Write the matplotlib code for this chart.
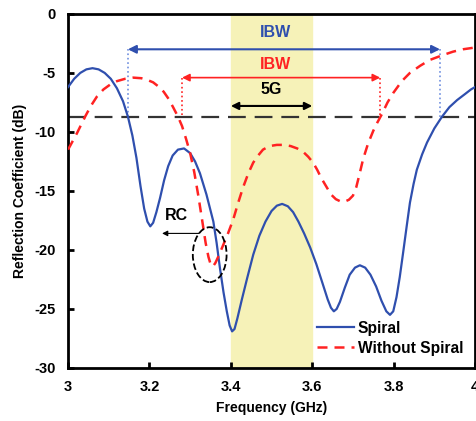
import matplotlib
matplotlib.use('Agg')
import matplotlib.pyplot as plt
from matplotlib.patches import Ellipse

plt.rcParams['font.family'] = ['Liberation Sans', 'DejaVu Sans']
plt.rcParams['font.weight'] = 'bold'
plt.rcParams['axes.unicode_minus'] = False

# Spiral (solid blue)
spiral_f = [3.00, 3.015, 3.03, 3.045, 3.06, 3.075, 3.09, 3.105, 3.12, 3.135,
            3.147, 3.158, 3.168, 3.178, 3.187, 3.195, 3.202, 3.209, 3.217, 3.226,
            3.236, 3.246, 3.257, 3.27, 3.285, 3.30, 3.312, 3.324, 3.34, 3.357,
            3.365, 3.373, 3.382, 3.39, 3.397, 3.403, 3.409, 3.416, 3.427, 3.44,
            3.455, 3.47, 3.485, 3.50, 3.513, 3.526, 3.54, 3.553, 3.566, 3.58,
            3.595, 3.61, 3.625, 3.638, 3.646, 3.653, 3.66, 3.668, 3.68, 3.692,
            3.705, 3.717, 3.73, 3.743, 3.757, 3.77, 3.782, 3.791, 3.799, 3.807,
            3.815, 3.823, 3.832, 3.84, 3.849, 3.857, 3.87, 3.882, 3.90, 3.919,
            3.937, 3.956, 3.975, 3.99, 4.00]
spiral_db = [-6.2, -5.5, -5.0, -4.7, -4.6, -4.7, -5.0, -5.5, -6.3, -7.4,
             -8.7, -10.3, -12.2, -14.6, -16.5, -17.6, -18.0, -17.7, -16.8, -15.6,
             -14.1, -12.9, -12.0, -11.5, -11.4, -11.8, -12.5, -13.5, -15.3, -17.6,
             -19.4, -21.5, -23.6, -25.2, -26.4, -26.9, -26.7, -25.8, -24.2, -22.4,
             -20.4, -18.8, -17.6, -16.7, -16.25, -16.1, -16.3, -16.8, -17.6, -18.6,
             -19.8, -21.2, -22.8, -24.2, -24.9, -25.2, -25.0, -24.4, -23.2, -22.1,
             -21.5, -21.3, -21.5, -22.1, -23.1, -24.3, -25.2, -25.5, -25.2, -24.0,
             -22.3, -20.3, -18.0, -16.0, -14.4, -13.2, -11.9, -10.9, -9.7, -8.7,
             -7.9, -7.3, -6.8, -6.4, -6.2]

# Without spiral (dashed red)
nospiral_f = [3.00, 3.011, 3.022, 3.032, 3.042, 3.056, 3.071, 3.087, 3.103, 3.12,
              3.14, 3.16, 3.18, 3.195, 3.209, 3.222, 3.235, 3.247, 3.258, 3.27,
              3.28, 3.29, 3.30, 3.31, 3.32, 3.33, 3.338, 3.345, 3.351, 3.356,
              3.362, 3.37, 3.381, 3.393, 3.406, 3.418, 3.43, 3.443, 3.455, 3.467,
              3.479, 3.495, 3.513, 3.53, 3.547, 3.563, 3.578, 3.59, 3.602, 3.612,
              3.622, 3.634, 3.646, 3.658, 3.67, 3.68, 3.69, 3.70, 3.708, 3.716,
              3.725, 3.737, 3.75, 3.76, 3.771, 3.785, 3.799, 3.82, 3.84, 3.865,
              3.889, 3.92, 3.946, 3.97, 4.00]
nospiral_db = [-11.5, -10.8, -10.1, -9.4, -8.7, -7.8, -7.0, -6.4, -6.0, -5.7,
               -5.5, -5.4, -5.45, -5.6, -5.8, -6.15, -6.6, -7.2, -7.9, -8.7,
               -9.5, -10.6, -11.8, -13.4, -15.4, -17.6, -19.4, -20.6, -21.3, -21.4,
               -21.1, -20.5, -19.6, -18.6, -17.4, -16.0, -14.7, -13.5, -12.6, -12.0,
               -11.5, -11.2, -11.1, -11.1, -11.2, -11.4, -11.7, -12.1, -12.6, -13.2,
               -13.9, -14.6, -15.3, -15.7, -15.9, -15.9, -15.75, -15.4, -14.7, -13.6,
               -12.3, -11.0, -9.9, -9.2, -8.5, -7.5, -6.7, -5.7, -5.0, -4.4,
               -3.9, -3.5, -3.2, -3.0, -2.85]

threshold_db = -8.7
band_5g = (3.4, 3.6)
ibw_spiral = (3.147, 3.914)
ibw_nospiral = (3.28, 3.767)
xticks = [3, 3.2, 3.4, 3.6, 3.8, 4]
xtick_labels = ['3', '3.2', '3.4', '3.6', '3.8', '4']
yticks = [0, -5, -10, -15, -20, -25, -30]

blue = '#2f4fae'
red = '#ff2222'

fig = plt.figure(figsize=(4.76, 4.21), dpi=100)
ax = fig.add_axes([0.143, 0.126, 0.855, 0.841])

ax.axvspan(band_5g[0], band_5g[1], color='#f6f2b8', zorder=0)
ax.axhline(threshold_db, color='#333333', lw=1.6, dashes=(8, 4), zorder=1)

ax.plot(spiral_f, spiral_db, color=blue, lw=1.6, label='Spiral', zorder=3)
ax.plot(nospiral_f, nospiral_db, color=red, lw=1.8, dashes=(4, 2.8),
        label='Without Spiral', zorder=3)

# IBW of spiral
ax.annotate('', xy=(ibw_spiral[0], -3.0), xytext=(ibw_spiral[1], -3.0),
            arrowprops=dict(arrowstyle='<|-|>', color=blue, lw=1.5, mutation_scale=12,
                            shrinkA=0, shrinkB=0))
for f in ibw_spiral:
    ax.plot([f, f], [-3.0, threshold_db], color='#6f8fdf', lw=1.2, ls=':')
ax.text(3.51, -1.6, 'IBW', color=blue, fontsize=11.5, ha='center', va='center')

# IBW without spiral
ax.annotate('', xy=(ibw_nospiral[0], -5.4), xytext=(ibw_nospiral[1], -5.4),
            arrowprops=dict(arrowstyle='<|-|>', color=red, lw=1.2, mutation_scale=11,
                            shrinkA=0, shrinkB=0))
for f in ibw_nospiral:
    ax.plot([f, f], [-5.4, threshold_db], color=red, lw=1.2, ls=':')
ax.text(3.51, -4.3, 'IBW', color=red, fontsize=11.5, ha='center', va='center')

# 5G band
ax.annotate('', xy=(band_5g[0], -7.8), xytext=(band_5g[1], -7.8),
            arrowprops=dict(arrowstyle='<|-|>', color='black', lw=1.5, mutation_scale=11,
                            shrinkA=0, shrinkB=0))
ax.text(3.50, -6.4, '5G', color='black', fontsize=11.5, ha='center', va='center')

# RC marker
ax.add_patch(Ellipse((3.348, -20.4), 0.083, 4.65, fill=False, ec='black',
                     lw=1.3, ls='--', zorder=4))
ax.annotate('', xy=(3.231, -18.6), xytext=(3.322, -18.6),
            arrowprops=dict(arrowstyle='-|>', color='black', lw=0.8, mutation_scale=8,
                            shrinkA=0, shrinkB=0))
ax.text(3.267, -17.1, 'RC', color='black', fontsize=11.5, ha='center', va='center')

ax.set_xlim(3, 4)
ax.set_ylim(-30, 0)
ax.set_xticks(xticks)
ax.set_xticklabels(xtick_labels)
ax.set_yticks(yticks)
ax.tick_params(direction='in', length=4, width=2, labelsize=10.5, pad=9)
for lbl in ax.get_xticklabels() + ax.get_yticklabels():
    lbl.set_fontweight('bold')
for s in ax.spines.values():
    s.set_linewidth(2)
ax.set_xlabel('Frequency (GHz)', fontsize=10, fontweight='bold', labelpad=5)
ax.set_ylabel('Reflection Coefficient (dB)', fontsize=10, fontweight='bold', labelpad=5)

ax.legend(loc='lower left', frameon=False, prop={'size': 11.2, 'weight': 'bold'},
          handlelength=2.4, handletextpad=0.2, borderpad=0, borderaxespad=0,
          labelspacing=0.3, bbox_to_anchor=(0.612, 0.035))

fig.savefig('out.png', dpi=100)
